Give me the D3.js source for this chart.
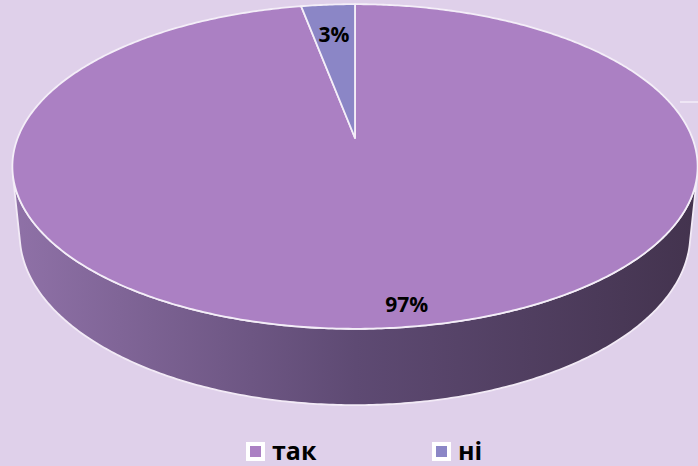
<!DOCTYPE html>
<html>
<head>
<meta charset="utf-8">
<script src="https://cdn.jsdelivr.net/npm/d3@7"></script>
<style>
  html, body { margin: 0; padding: 0; background: #dfd0ea; }
  svg { display: block; }
  text { font-family: "Open Sans", "DejaVu Sans", sans-serif; font-weight: bold; }
</style>
</head>
<body>
<div id="container"></div>
<script>
/* DATA */
const categories = ["так", "ні"];
const values = [97, 3];
const labels = ["97%", "3%"];
const colors = ["#ab80c3", "#8b86c6"];

/* CONSTANTS */
const width = 698,
  height = 466;

// 3d view of the pie (perspective)
const cx = 355, cy = 138;
const tilt = 27.8 * Math.PI / 180;
const dist = 5.04;      // camera distance in pie radii
const focal = 1700;     // focal length in px * radius
const depth = 0.23;     // thickness of the pie, in radii

const cosT = Math.cos(tilt), sinT = Math.sin(tilt);

// angle t: 0 at the top (far side), clockwise; r: 0..1; y: height
function project(t, r, y) {
  const X = r * Math.sin(t),
    Z = r * Math.cos(t);
  const yc = y * cosT + Z * sinT,
    zc = -y * sinT + Z * cosT + dist;
  return [cx + focal * X / zc, cy - focal * yc / zc];
}

function arcPoints(a0, a1, y) {
  const n = Math.max(2, Math.ceil(Math.abs(a1 - a0) / 0.01));
  return d3.range(n + 1).map(i => project(a0 + (a1 - a0) * i / n, 1, y));
}

const svg = d3.select("#container")
  .append("svg")
  .attr("width", width)
  .attr("height", height);

svg.append("rect")
  .attr("width", width)
  .attr("height", height)
  .attr("fill", "#dfd0ea");

// thin line at the right edge of the plot area
svg.append("line")
  .attr("x1", 680).attr("x2", width)
  .attr("y1", 102).attr("y2", 102)
  .attr("stroke", "#f4eef8")
  .attr("stroke-width", 1.5);

const pie = d3.pie().sort(null).startAngle(0).endAngle(2 * Math.PI);
const arcs = pie(values);

// side gradient
const defs = svg.append("defs");
const grad = defs.append("linearGradient")
  .attr("id", "side")
  .attr("gradientUnits", "userSpaceOnUse")
  .attr("x1", 15).attr("x2", 697)
  .attr("y1", 0).attr("y2", 0);
grad.append("stop").attr("offset", "0%").attr("stop-color", "#8f71a7");
grad.append("stop").attr("offset", "50%").attr("stop-color", "#5e4a73");
grad.append("stop").attr("offset", "100%").attr("stop-color", "#43334e");

// visible outer wall: between the tangent points seen from the camera
const tangentZ = -1 / (dist * cosT);
const tRight = Math.acos(tangentZ),
  tLeft = 2 * Math.PI - tRight;

const line = d3.line();

arcs.forEach((a, i) => {
  const s = Math.max(a.startAngle, tRight),
    e = Math.min(a.endAngle, tLeft);
  if (e <= s) return;
  const topRim = arcPoints(s, e, 0);
  const botRim = arcPoints(e, s, -depth);
  svg.append("path")
    .attr("d", line(topRim.concat(botRim)) + "Z")
    .attr("fill", "url(#side)")
    .attr("stroke", "#f2eaf6")
    .attr("stroke-width", 1.8)
    .attr("stroke-linejoin", "round");
});

// top faces
svg.selectAll(".slice")
  .data(arcs)
  .join("path")
  .attr("class", "slice")
  .attr("d", a => line([project(0, 0, 0)].concat(arcPoints(a.startAngle, a.endAngle, 0))) + "Z")
  .attr("fill", (a, i) => colors[i])
  .attr("stroke", "#f4eef8")
  .attr("stroke-width", 1.8)
  .attr("stroke-linejoin", "round");

// data labels
const labelR = [0.9, 0.75];
svg.selectAll(".label")
  .data(arcs)
  .join("text")
  .attr("class", "label")
  .attr("x", (a, i) => project((a.startAngle + a.endAngle) / 2 - (i === 0 ? 0.05 : 0), labelR[i], 0)[0])
  .attr("y", (a, i) => project((a.startAngle + a.endAngle) / 2 - (i === 0 ? 0.05 : 0), labelR[i], 0)[1])
  .attr("text-anchor", "middle")
  .attr("dominant-baseline", "central")
  .attr("font-size", 21)
  .attr("fill", "#000")
  .text((a, i) => labels[i]);

// legend
const legendX = d3.scalePoint()
  .domain(categories)
  .range([246, 432]);

const legend = svg.selectAll(".legend")
  .data(categories)
  .join("g")
  .attr("class", "legend")
  .attr("transform", d => `translate(${legendX(d)},442)`);

legend.append("rect")
  .attr("width", 19).attr("height", 19)
  .attr("fill", "#ffffff");

legend.append("rect")
  .attr("x", 4).attr("y", 4)
  .attr("width", 11).attr("height", 11)
  .attr("fill", (d, i) => colors[i]);

legend.append("text")
  .attr("x", 26)
  .attr("y", 18)
  .attr("font-size", 25)
  .attr("fill", "#000")
  .text(d => d);
</script>
</body>
</html>
